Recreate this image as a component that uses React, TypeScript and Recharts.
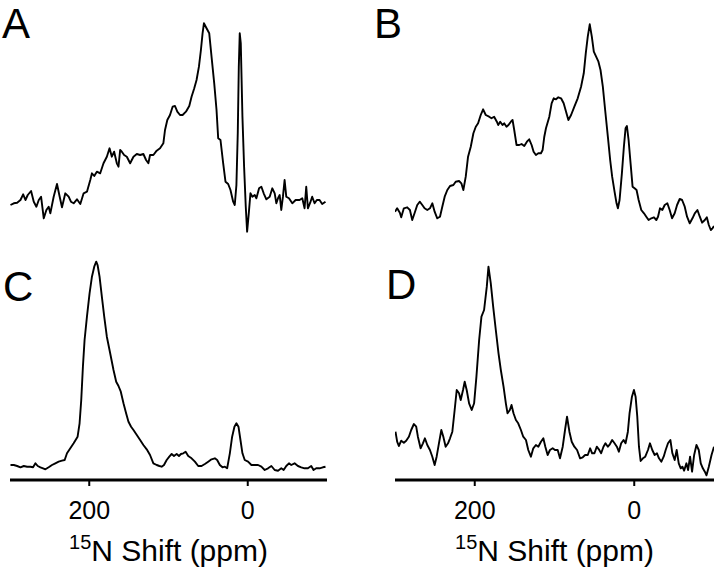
import { LineChart, Line, XAxis, YAxis } from 'recharts';

const FONT = '"Liberation Sans", Arial, Helvetica, sans-serif';

// [15N shift (ppm), intensity]
const traceA: [number, number][] = [
  [299.4, 35], [295.2, 36.7], [291, 37.3], [286.8, 40], [283.4, 45.7], [280.5, 40], [277.6, 45], [273.4, 49],
  [270, 38.3], [266.7, 33.3], [263.7, 40], [260.8, 43.3], [257.4, 21.7], [254.1, 30], [251.2, 33.3], [249.1, 26.7],
  [244.9, 43.3], [240.7, 56], [237.3, 43.3], [234.4, 32.7], [230.2, 46.7], [226, 43.3], [223.1, 38.3], [219.7, 36.7],
  [215.5, 40.7], [211.3, 36], [207.1, 46.7], [202.9, 48.3], [198.7, 60], [196.6, 66.7], [193.7, 64], [190.4, 68.3],
  [186.2, 66.7], [182, 76.7], [177.8, 83.3], [174.4, 91.7], [171.5, 83.3], [168.6, 88.3], [165.2, 76.7], [163.1, 73.3],
  [161, 90], [158.9, 88.3], [156, 85], [152.6, 83.3], [148.4, 76.7], [144.2, 83.3], [140, 86], [135.8, 85],
  [131.7, 86], [128.3, 80], [125.4, 76.7], [123.3, 85], [119.1, 85], [114.9, 89.3], [110.7, 91.7], [106.5, 96.7],
  [104.4, 110], [101.5, 120], [98.1, 125], [94.8, 133.3], [91.8, 134], [88.9, 128.3], [85.5, 125], [82.2, 125],
  [78, 128.3], [73.8, 134], [70.9, 143.3], [67.5, 151.7], [64.6, 160], [61.6, 173.3], [59.1, 190], [57, 206.7],
  [55.3, 216.7], [52, 211.7], [48.6, 206.7], [45.7, 183.3], [42.3, 156.7], [39.4, 130], [37.3, 101.7], [34.4, 100],
  [31, 76.7], [28.1, 58.3], [24.7, 56], [21.8, 50], [18.4, 38.3], [16.4, 35], [14.3, 55], [12.6, 106.7],
  [11.3, 173.3], [10.1, 206.7], [8.8, 196.7], [6.7, 123.3], [4.6, 73.3], [2.5, 33.3], [0.8, 8.3], [-1.3, 26.7],
  [-3.4, 46.7], [-5.9, 43.3], [-8.8, 45], [-10.9, 41.7], [-14.3, 51.7], [-17.2, 53.3], [-20.1, 46.7], [-23.5, 40.7],
  [-27.7, 43.3], [-31, 51.7], [-34, 46.7], [-36.1, 36.7], [-38.2, 41.7], [-40.3, 45], [-42.3, 30], [-44.4, 43.3],
  [-46.5, 60], [-48.6, 43.3], [-52, 41.7], [-56.2, 36.7], [-60.4, 40], [-65.4, 40], [-68.8, 41.7], [-71.7, 31.7],
  [-73.8, 53.3], [-75.9, 31.7], [-78.8, 37.3], [-81.3, 43.3], [-84.3, 36.7], [-87.2, 40], [-90.6, 40], [-93.9, 36],
  [-98.1, 38.3],
];

const traceB: [number, number][] = [
  [300, 28.3], [297.3, 31.7], [293.9, 27.3], [292.2, 22.7], [288.9, 31.7], [284.7, 32.7], [281.3, 30], [278.4, 20],
  [275.5, 26.7], [272.1, 35], [268.8, 38.3], [265.8, 35], [262.9, 31.7], [259.5, 30], [256.2, 31.7], [253.2, 36.7],
  [250.3, 28.3], [247, 21.7], [243.6, 23.3], [240.7, 33.3], [237.7, 43.3], [234.4, 50], [231, 54], [226.8, 55],
  [223.9, 58.3], [219.7, 59], [216.8, 56.7], [214.3, 50], [211.3, 63.3], [208.4, 83.3], [205, 93.3], [201.7, 106.7],
  [198.7, 113.3], [195.8, 116.7], [192.5, 125], [189.5, 130.7], [186.2, 125], [182, 123.3], [179, 121.7], [175.7, 123.3],
  [172.3, 118.3], [170.6, 115], [168.1, 118.3], [165.2, 115], [163.1, 116.7], [160.2, 113.3], [157.7, 115], [154.7, 118.3],
  [152.6, 120], [150.5, 110], [147.6, 95], [144.2, 95], [141.3, 96], [137.9, 94], [134.6, 98.3], [131.7, 100.7],
  [128.7, 95], [126.2, 88.3], [123.3, 85], [120.3, 86.7], [117, 86.7], [114.9, 90], [112.8, 103.3], [110.7, 111.7],
  [106.5, 123.3], [103.6, 136.7], [101, 141.7], [98.1, 140.7], [95.2, 142.7], [91.8, 141.7], [88.5, 136.7], [85.5, 128.3],
  [82.6, 120], [79.2, 125], [75.1, 133.3], [70.9, 141.7], [66.7, 153.3], [63.3, 166.7], [60.8, 186.7], [58.3, 203.3],
  [55.8, 215.7], [53.2, 203.3], [50.7, 188.3], [47.8, 183.3], [44.9, 178.3], [42.3, 170], [39.4, 153.3], [36.5, 130],
  [33.1, 103.3], [30.2, 80], [27.7, 63.3], [24.7, 48.3], [22.2, 36.7], [20.5, 31.7], [18.4, 40], [15.5, 66.7],
  [13, 93.3], [10.9, 111.7], [9.2, 114], [7.1, 100], [4.6, 76.7], [2.1, 53.3], [-0.4, 51.7], [-2.9, 50],
  [-5.5, 40], [-8.8, 30], [-12.2, 26.7], [-15.1, 23.3], [-18, 20], [-21.4, 21.7], [-24.7, 22.7], [-27.7, 20],
  [-29.8, 23.3], [-32.3, 31.7], [-35.2, 30], [-38.2, 35], [-41.5, 36.7], [-44.4, 30], [-47.4, 21.7], [-50.7, 26.7],
  [-53.7, 35], [-57, 41], [-60, 40], [-63.3, 33.3], [-66.2, 23.3], [-69.6, 16.7], [-73, 21.7], [-75.9, 26.7],
  [-79.2, 30], [-82.2, 23.3], [-85.1, 17.3], [-88.5, 20], [-91, 22.7], [-93.5, 15], [-96, 10], [-98.1, 11.7],
  [-100, 14],
];

const traceC: [number, number][] = [
  [299.4, 15], [295.2, 15], [291, 14], [286.8, 12.7], [282.6, 14], [278.4, 13.3], [274.2, 13.3], [270.9, 12.7],
  [267.9, 16.7], [265, 14], [261.6, 12.7], [258.3, 11.7], [255.3, 10.7], [251.2, 12.7], [247, 15], [242.8, 16.7],
  [238.6, 18.3], [234.4, 19.3], [231, 20], [228.1, 26.7], [223.9, 31.7], [219.7, 36.7], [214.7, 43.3], [212.2, 56.7],
  [210.1, 80], [208, 113.3], [205.9, 140], [202.9, 163.3], [199.6, 186.7], [196.6, 203.3], [193.7, 213.3], [191.2, 218.3],
  [189.5, 215], [187, 203.3], [184.1, 183.3], [181.1, 163.3], [177.8, 143.3], [173.6, 126.7], [169.4, 110], [166, 98.3],
  [163.1, 94], [160.2, 88.3], [156.8, 76.7], [153.5, 66.7], [150.5, 58.3], [147.2, 53.3], [144.2, 50], [140, 45],
  [135.8, 40], [131.7, 35], [127.5, 30.7], [123.3, 25], [119.1, 16.7], [114.9, 15], [111.5, 14], [108.6, 13.3],
  [105.7, 15], [102.3, 20], [99, 23.3], [96, 26], [93.1, 24], [89.7, 26], [86.8, 24], [84.3, 26],
  [81.3, 26.7], [78.4, 28.3], [75.1, 24], [70.9, 21.7], [66.7, 18.3], [62.5, 14], [58.3, 14], [54.1, 16],
  [49.9, 18.3], [45.7, 20.7], [41.5, 21.7], [38.6, 20], [35.2, 15], [31.9, 12.7], [28.9, 13.3], [26, 11.7],
  [22.6, 26.7], [19.7, 43.3], [16.8, 53.3], [14.3, 56.7], [11.7, 53.3], [9.2, 40], [6.7, 26.7], [3.8, 20],
  [-0.4, 18.3], [-4.6, 15], [-8.8, 15], [-13, 15], [-17.2, 13.3], [-21.4, 10], [-25.6, 11.7], [-29.8, 14],
  [-34, 10], [-38.2, 9.3], [-42.3, 11.7], [-45.3, 10], [-48.6, 14], [-52, 16.7], [-54.9, 15], [-59.1, 16.7],
  [-63.3, 14], [-67.5, 12.7], [-71.7, 11.7], [-75.9, 11.7], [-80.1, 14], [-83, 10], [-86.4, 11.7], [-90.6, 11.7],
  [-94.8, 12.7], [-98.1, 13.3],
];

const traceD: [number, number][] = [
  [299.4, 48.3], [297.3, 38.3], [295.2, 34], [292.2, 39.3], [288.9, 37.3], [286, 39.3], [282.6, 43.3], [279.7, 50],
  [276.3, 56], [273.4, 53.3], [271.3, 43.3], [267.9, 31.7], [265, 36.7], [262.5, 41.7], [259.5, 35], [256.2, 30],
  [253.2, 23.3], [250.3, 15], [247.8, 23.3], [244.9, 36.7], [241.9, 50], [239.4, 43.3], [236.5, 33.3], [233.5, 36.7],
  [231, 41.7], [228.1, 48.3], [225.2, 70], [222.6, 90], [219.7, 86.7], [217.6, 80], [214.7, 90], [212.6, 98.3],
  [210.1, 90], [207.1, 76.7], [203.8, 70], [200.8, 76.7], [197.9, 103.3], [194.5, 140], [191.6, 163.3], [188.3, 170],
  [184.9, 193.3], [182.8, 213.3], [179.9, 196.7], [176.9, 173.3], [173.6, 150], [170.2, 126.7], [167.3, 110], [163.9, 93.3],
  [161, 76.7], [158.9, 66.7], [156, 70], [153.9, 75], [151.4, 66.7], [148.4, 60], [145.5, 56.7], [142.1, 50],
  [139.2, 43.3], [135.8, 40], [132.9, 30], [129.6, 23.3], [126.6, 31.7], [123.3, 35], [120.3, 33.3], [117, 38.3],
  [114, 41.7], [111.5, 33.3], [108.6, 25], [105.7, 30], [102.3, 31.7], [99.4, 30], [96, 30], [93.1, 21.7],
  [89.7, 33.3], [86.8, 50], [84.3, 63.3], [81.3, 48.3], [78.4, 38.3], [75.1, 33.3], [71.7, 30], [67.9, 21.7],
  [64.6, 22.7], [61.6, 25], [58.3, 25], [55.3, 31.7], [52.8, 26.7], [49.9, 26.7], [47, 33.3], [44.4, 30.7],
  [41.5, 26.7], [38.6, 33.3], [36.1, 36.7], [33.1, 33.3], [30.6, 35.7], [27.7, 40], [24.7, 36.7], [21.8, 33.3],
  [19.3, 28.3], [16.4, 36.7], [13.4, 40], [10.9, 36.7], [8, 48.3], [5.9, 66.7], [2.9, 83.3], [0.4, 90],
  [-1.7, 83.3], [-3.8, 63.3], [-5.9, 33.3], [-8, 19], [-10.9, 21.7], [-13.8, 23.3], [-17.2, 30], [-19.7, 36.7],
  [-22.6, 30], [-25.6, 25], [-28.5, 26.7], [-31, 21.7], [-34, 18.3], [-36.9, 23.3], [-39.4, 30], [-42.3, 36.7],
  [-45.3, 40], [-47.8, 26.7], [-50.7, 20], [-53.2, 30], [-55.8, 16.7], [-58.3, 11.7], [-60.4, 13.3], [-62.5, 9.3],
  [-65.4, 16.7], [-67.5, 10], [-70, 23.3], [-72.5, 8.3], [-75.1, 25], [-78, 35], [-80.9, 30], [-83.4, 16.7],
  [-86, 11.7], [-88.5, 8.3], [-90.6, 4.7], [-93.5, 13.3], [-96.9, 25], [-100, 33.3],
];

const shiftDomain = [-100, 300];
const shiftTicks = [200, 0];

const toRows = (trace: [number, number][]) => trace.map(([ppm, value]) => ({ ppm, value }));

function ShiftLabel(props: any) {
  const vb = props.viewBox || {};
  const cx = vb.x + vb.width / 2;
  return (
    <text x={cx} y={vb.y + 81} textAnchor="middle" fontFamily={FONT} fontSize={30} fill="#000">
      <tspan fontSize={20} dy={-12}>15</tspan>
      <tspan dy={12}>N Shift (ppm)</tspan>
    </text>
  );
}

type PanelProps = {
  trace: [number, number][];
  left: number;
  top: number;
  width: number;
  plotHeight: number;
  showAxis: boolean;
};

function Panel({ trace, left, top, width, plotHeight, showAxis }: PanelProps) {
  const axisHeight = showAxis ? 100 : 0;
  return (
    <div style={{ position: 'absolute', left, top }}>
      <LineChart
        width={width}
        height={plotHeight + axisHeight}
        data={toRows(trace)}
        margin={{ top: 0, right: 0, left: 0, bottom: 0 }}
      >
        <XAxis
          type="number"
          dataKey="ppm"
          domain={shiftDomain}
          allowDataOverflow
          reversed
          hide={!showAxis}
          ticks={shiftTicks}
          height={axisHeight}
          tickSize={6}
          tickMargin={15}
          axisLine={{ stroke: '#000', strokeWidth: 3 }}
          tickLine={{ stroke: '#000', strokeWidth: 2 }}
          tick={{ fill: '#000', fontSize: 25, fontFamily: FONT }}
          label={showAxis ? (p: any) => <ShiftLabel {...p} /> : undefined}
        />
        <YAxis hide type="number" domain={[0, plotHeight]} allowDataOverflow />
        <Line
          type="linear"
          dataKey="value"
          stroke="#000"
          strokeWidth={1.9}
          strokeLinejoin="round"
          dot={false}
          isAnimationActive={false}
        />
      </LineChart>
    </div>
  );
}

export default function App() {
  return (
    <div
      style={{
        position: 'fixed',
        left: 0,
        top: 0,
        width: 720,
        height: 586,
        background: '#fff',
        overflow: 'hidden',
      }}
    >
      <Panel trace={traceA} left={10} top={0} width={317} plotHeight={240} showAxis={false} />
      <Panel trace={traceB} left={395} top={0} width={319} plotHeight={240} showAxis={false} />
      <Panel trace={traceC} left={10} top={250} width={317} plotHeight={230} showAxis />
      <Panel trace={traceD} left={395} top={250} width={319} plotHeight={230} showAxis />
      <svg
        width={720}
        height={586}
        style={{ position: 'absolute', left: 0, top: 0, pointerEvents: 'none' }}
      >
        <g fontFamily={FONT} fontSize={42} fill="#000">
          <text x={2} y={38}>A</text>
          <text x={374} y={38}>B</text>
          <text x={3} y={301}>C</text>
          <text x={386} y={299}>D</text>
        </g>
      </svg>
    </div>
  );
}
